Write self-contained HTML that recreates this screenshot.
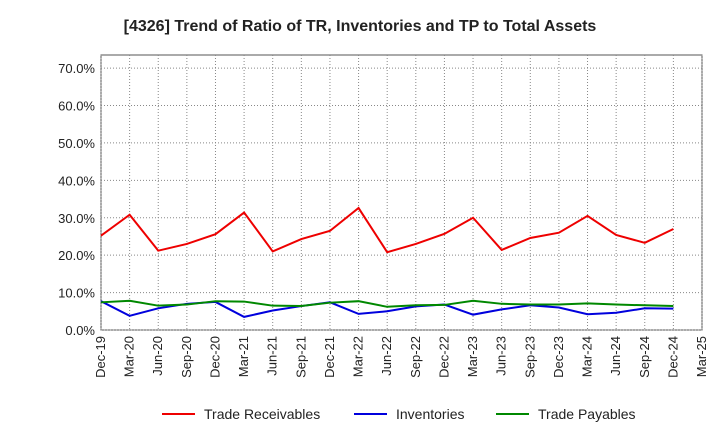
<!DOCTYPE html>
<html><head><meta charset="utf-8"><style>
body{margin:0;background:#fff;font-family:"Liberation Sans",Arial,sans-serif;}
</style></head><body>
<svg id="chart" width="720" height="440" xmlns="http://www.w3.org/2000/svg" font-family="Liberation Sans, Arial, sans-serif">
<text x="360" y="31" text-anchor="middle" font-size="16" font-weight="bold" fill="#222">[4326]  Trend of Ratio of TR, Inventories and TP to Total Assets</text>
<g id="grid"></g><g id="axes"></g><g id="series"></g>
<g>
<line x1="162" y1="414" x2="195" y2="414" stroke="#e00" stroke-width="2"/><text x="204" y="419" font-size="14" fill="#222">Trade Receivables</text>
<line x1="354" y1="414" x2="387" y2="414" stroke="#00d" stroke-width="2"/><text x="396" y="419" font-size="14" fill="#222">Inventories</text>
<line x1="496" y1="414" x2="529" y2="414" stroke="#080" stroke-width="2"/><text x="538" y="419" font-size="14" fill="#222">Trade Payables</text>
</g>
</svg>
<script>
const categories=["Dec-19","Mar-20","Jun-20","Sep-20","Dec-20","Mar-21","Jun-21","Sep-21","Dec-21","Mar-22","Jun-22","Sep-22","Dec-22","Mar-23","Jun-23","Sep-23","Dec-23","Mar-24","Jun-24","Sep-24","Dec-24","Mar-25"];
const tradeReceivables=[25.2,30.8,21.2,23.0,25.6,31.4,21.0,24.3,26.5,32.6,20.8,23.0,25.7,30.0,21.4,24.6,26.0,30.5,25.4,23.3,27.0];
const inventories=[7.7,3.8,5.8,7.0,7.5,3.5,5.2,6.4,7.4,4.3,5.0,6.3,6.8,4.1,5.5,6.6,6.0,4.2,4.6,5.8,5.7];
const tradePayables=[7.4,7.8,6.5,6.8,7.7,7.6,6.5,6.4,7.3,7.7,6.2,6.6,6.7,7.8,7.0,6.8,6.8,7.1,6.8,6.6,6.4];
const yTicks=[0,10,20,30,40,50,60,70];
const L=101,R=702,T=55,B=330,yMax=73.5;
const NS="http://www.w3.org/2000/svg";
const x=i=>L+i*(R-L)/(categories.length-1);
const y=v=>B-v/yMax*(B-T);
function mk(tag,attrs,parent){const e=document.createElementNS(NS,tag);for(const k in attrs)e.setAttribute(k,attrs[k]);parent.appendChild(e);return e;}
const grid=document.getElementById('grid'),axes=document.getElementById('axes'),series=document.getElementById('series');
mk('rect',{x:L,y:T,width:R-L,height:B-T,fill:'none',stroke:'#555'},grid);
yTicks.forEach(v=>{
  const l=mk('line',{x1:L,x2:R,y1:y(v),y2:y(v),stroke:'#888','stroke-dasharray':'1,2'},grid);
  
  
  const t=mk('text',{x:L-6,y:y(v)+5,'text-anchor':'end','font-size':'13',fill:'#222'},axes);
  t.textContent=v.toFixed(1)+'%';
  
  
});
categories.forEach((c,i)=>{
  const l=mk('line',{x1:x(i),x2:x(i),y1:T,y2:B,stroke:'#888','stroke-dasharray':'1,2'},grid);
  
  
  const t=mk('text',{x:0,y:0,'text-anchor':'end','font-size':'13',fill:'#222',transform:`translate(${x(i)+4},${B+6}) rotate(-90)`},axes);
  t.textContent=c;
  
  
});
function line(data,color,name){
  const p=mk('polyline',{points:data.map((v,i)=>x(i)+','+y(v)).join(' '),fill:'none',stroke:color,'stroke-width':2},series);
  
  
}
line(tradeReceivables,'#e00','trade-receivables-line');
line(inventories,'#00d','inventories-line');
line(tradePayables,'#080','trade-payables-line');
</script>
</body></html>
